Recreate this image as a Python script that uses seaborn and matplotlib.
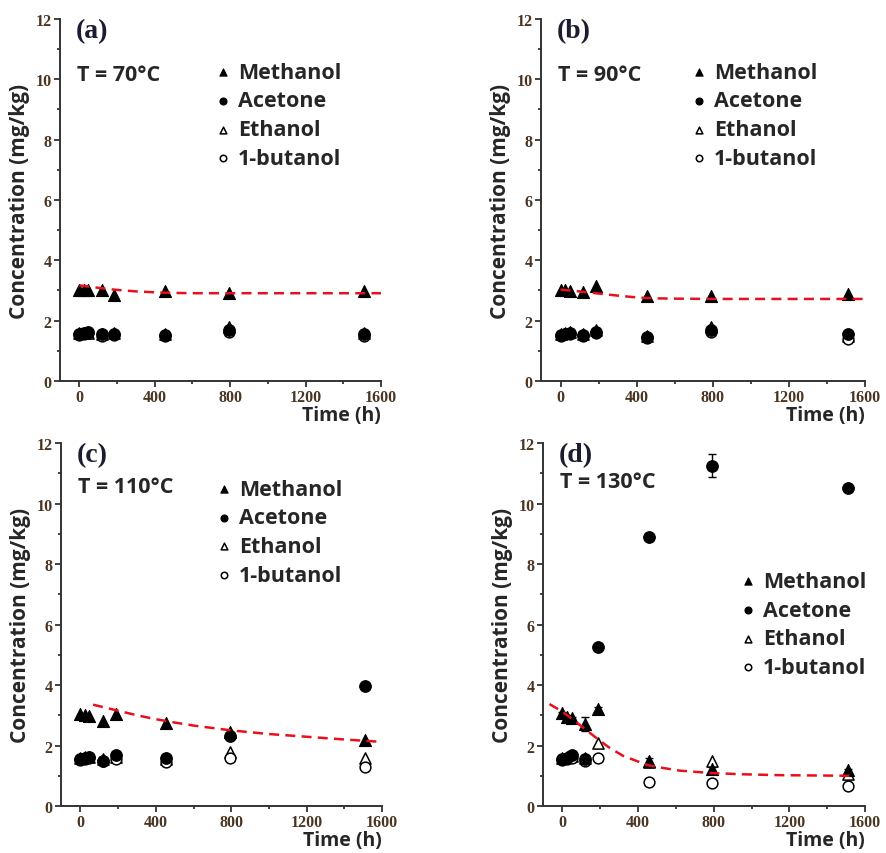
import numpy as np
import matplotlib
matplotlib.use('Agg')
import matplotlib.pyplot as plt
import seaborn as sns
from matplotlib.ticker import MultipleLocator

# ---- data ----
hours = [0, 24, 48, 120, 186, 456, 792, 1512]

meth_70 = [3.02, 3.03, 3.00, 3.00, 2.85, 2.98, 2.92, 2.97]
acet_70 = [1.55, 1.58, 1.62, 1.55, 1.57, 1.53, 1.68, 1.55]
etha_70 = [1.58, 1.60, 1.60, 1.55, 1.60, 1.55, 1.78, 1.58]
buta_70 = [1.52, 1.55, 1.58, 1.50, 1.52, 1.50, 1.62, 1.48]

meth_90 = [3.03, 3.00, 2.98, 2.95, 3.14, 2.83, 2.83, 2.87]
acet_90 = [1.53, 1.57, 1.60, 1.52, 1.62, 1.45, 1.69, 1.57]
etha_90 = [1.55, 1.60, 1.62, 1.55, 1.68, 1.50, 1.78, 1.50]
buta_90 = [1.50, 1.55, 1.55, 1.50, 1.58, 1.42, 1.62, 1.40]

meth_110 = [3.04, 3.02, 2.98, 2.82, 3.04, 2.76, 2.45, 2.17]
acet_110 = [1.55, 1.60, 1.63, 1.50, 1.70, 1.60, 2.33, 3.98]
etha_110 = [1.58, 1.62, 1.62, 1.55, 1.62, 1.55, 1.80, 1.60]
buta_110 = [1.52, 1.55, 1.58, 1.48, 1.55, 1.45, 1.60, 1.28]

meth_130 = [3.07, 2.95, 2.90, 2.71, 3.20, 1.50, 1.22, 1.18]
acet_130 = [1.55, 1.60, 1.70, 1.57, 5.25, 8.88, 11.25, 10.50]
etha_130 = [1.60, 1.62, 1.65, 1.58, 2.08, 1.45, 1.50, 1.05]
buta_130 = [1.52, 1.55, 1.60, 1.50, 1.60, 0.79, 0.75, 0.65]
meth_130_err = [0.05, 0.05, 0.05, 0.22, 0.08, 0.08, 0.08, 0.06]
acet_130_err = [0.05, 0.05, 0.05, 0.05, 0.08, 0.10, 0.38, 0.08]

# red dashed fits
fit_t_70 = [0, 50, 100, 150, 200, 300, 400, 500, 600, 800, 1000, 1600]
fit_70 = [3.17, 3.13, 3.09, 3.05, 3.02, 2.97, 2.94, 2.92, 2.91, 2.91, 2.91, 2.91]
fit_t_90 = [0, 50, 100, 150, 200, 300, 400, 500, 600, 800, 1000, 1600]
fit_90 = [3.03, 3.00, 2.97, 2.93, 2.90, 2.83, 2.77, 2.74, 2.73, 2.72, 2.72, 2.72]
fit_t_110 = [67, 200, 300, 400, 500, 600, 800, 1000, 1200, 1400, 1600]
fit_110 = [3.35, 3.15, 3.00, 2.87, 2.76, 2.66, 2.50, 2.38, 2.29, 2.20, 2.12]
fit_t_130 = [-69, 0, 108, 187, 250, 320, 400, 452, 540, 620, 788, 950, 1150, 1530]
fit_130 = [3.37, 3.12, 2.60, 2.21, 1.92, 1.66, 1.47, 1.35, 1.25, 1.17, 1.09, 1.05, 1.02, 1.00]

panels = ['(a)', '(b)', '(c)', '(d)']
temps = ['T = 70\u00b0C', 'T = 90\u00b0C', 'T = 110\u00b0C', 'T = 130\u00b0C']

sns.set_style('ticks')
plt.rcParams['font.family'] = ['Open Sans', 'DejaVu Sans']

tick_color = '#4a3522'
sans = 'Open Sans'
serif = 'Liberation Serif'


def draw_panel(ax, meth, acet, etha, buta, fit_t, fit_y, label, temp,
               text_y, leg_xy, meth_err=None, acet_err=None):
    """draw one temperature panel"""
    if meth_err is not None:
        ax.errorbar(hours, meth, yerr=meth_err, fmt='none', ecolor='black',
                    elinewidth=1, capsize=3, zorder=2)
        ax.errorbar(hours, acet, yerr=acet_err, fmt='none', ecolor='black',
                    elinewidth=1, capsize=3, zorder=2)
    sns.scatterplot(x=hours, y=meth, ax=ax, marker='^', color='black', s=75,
                    edgecolor='black', linewidth=0.8, label='Methanol', zorder=4)
    sns.scatterplot(x=hours, y=acet, ax=ax, marker='o', color='black', s=70,
                    edgecolor='black', linewidth=0.8, label='Acetone', zorder=4)
    sns.scatterplot(x=hours, y=etha, ax=ax, marker='^', color='white', s=65,
                    edgecolor='black', linewidth=1.1, label='Ethanol', zorder=3)
    sns.scatterplot(x=hours, y=buta, ax=ax, marker='o', color='white', s=60,
                    edgecolor='black', linewidth=1.1, label='1-butanol', zorder=3)
    sns.lineplot(x=fit_t, y=fit_y, ax=ax, color='#e8101a', linewidth=1.8,
                 linestyle=(0, (4, 2.5)), zorder=5)

    ax.set_xlim(-103, 1600)
    ax.set_ylim(0, 12)
    ax.xaxis.set_major_locator(MultipleLocator(400))
    ax.xaxis.set_minor_locator(MultipleLocator(200))
    ax.yaxis.set_major_locator(MultipleLocator(2))
    ax.yaxis.set_minor_locator(MultipleLocator(1))
    sns.despine(ax=ax)
    for sp in ['left', 'bottom']:
        ax.spines[sp].set_linewidth(1.4)
        ax.spines[sp].set_color('#333333')
    ax.tick_params(which='major', direction='out', length=4, width=1.3,
                   color='#333333', pad=2)
    ax.tick_params(which='minor', direction='out', length=2.5, width=1.3,
                   color='#333333')
    for t in ax.get_xticklabels() + ax.get_yticklabels():
        t.set_fontfamily(serif)
        t.set_fontweight('bold')
        t.set_fontsize(11.5)
        t.set_color(tick_color)

    ax.set_ylabel('Concentration (mg/kg)', fontsize=15, fontweight='bold',
                  family=sans, labelpad=4)
    ax.set_xlabel('Time (h)', fontsize=14, fontweight='bold', family=sans,
                  loc='right', labelpad=0)

    ax.text(0.05, 0.967, label, transform=ax.transAxes, family=serif,
            fontsize=20, fontweight='bold', color='#1c1c30', va='center')
    ax.text(0.052, text_y, temp, transform=ax.transAxes, family=sans,
            fontsize=15.5, fontweight='bold', va='center')

    leg = ax.legend(loc='upper left', bbox_to_anchor=leg_xy, frameon=False,
                    prop={'family': sans, 'weight': 'bold', 'size': 15.5},
                    handlelength=0.5, handletextpad=0.45, labelspacing=0.36,
                    borderpad=0, borderaxespad=0, markerscale=0.6)
    return leg


fig = plt.figure(figsize=(8.87, 8.54), dpi=100)
ax_a = fig.add_axes([0.0676, 0.5527, 0.3619, 0.4239])
ax_b = fig.add_axes([0.6099, 0.5527, 0.3653, 0.4239])
ax_c = fig.add_axes([0.0688, 0.0550, 0.3619, 0.4251])
ax_d = fig.add_axes([0.6122, 0.0550, 0.3630, 0.4251])

draw_panel(ax_a, meth_70, acet_70, etha_70, buta_70, fit_t_70, fit_70,
           panels[0], temps[0], 0.848, (0.49, 0.882))
draw_panel(ax_b, meth_90, acet_90, etha_90, buta_90, fit_t_90, fit_90,
           panels[1], temps[1], 0.848, (0.47, 0.882))
draw_panel(ax_c, meth_110, acet_110, etha_110, buta_110, fit_t_110, fit_110,
           panels[2], temps[2], 0.879, (0.49, 0.902))
draw_panel(ax_d, meth_130, acet_130, etha_130, buta_130, fit_t_130, fit_130,
           panels[3], temps[3], 0.893, (0.62, 0.648),
           meth_err=meth_130_err, acet_err=acet_130_err)

fig.savefig('out.png', dpi=100)
